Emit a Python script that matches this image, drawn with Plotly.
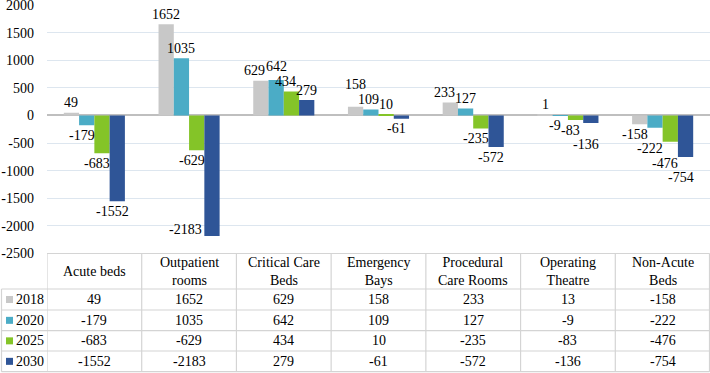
import plotly.graph_objects as go

categories = ["Acute beds", "Outpatient rooms", "Critical Care Beds", "Emergency Bays",
              "Procedural Care Rooms", "Operating Theatre", "Non-Acute Beds"]
header_labels = ["Acute beds", "Outpatient<br>rooms", "Critical Care<br>Beds", "Emergency<br>Bays",
                 "Procedural<br>Care Rooms", "Operating<br>Theatre", "Non-Acute<br>Beds"]
years = ["2018", "2020", "2025", "2030"]
v2018 = [49, 1652, 629, 158, 233, 13, -158]
v2020 = [-179, 1035, 642, 109, 127, -9, -222]
v2025 = [-683, -629, 434, 10, -235, -83, -476]
v2030 = [-1552, -2183, 279, -61, -572, -136, -754]
series = [v2018, v2020, v2025, v2030]
# data labels as printed on the chart (the 2018 Operating Theatre label reads "1")
labels2018 = ["49", "1652", "629", "158", "233", "1", "-158"]
bar_labels = [labels2018] + [[str(v) for v in s] for s in series[1:]]
colors = ["#c8c8c8", "#4bacc6", "#84c428", "#2f5597"]
yticks = [2000, 1500, 1000, 500, 0, -500, -1000, -1500, -2000, -2500]
YMIN, YMAX = -2500, 2000

W, H = 710, 373
ML, MT = 47, 5
PH = H - MT
FONT = "Liberation Serif, Times New Roman, serif"
FS = 14
BARGAP = 0.355

def py(pix):
    return 1 - (pix - MT) / PH

def px(pix):
    return (pix - ML) / (W - ML)

row_edges = [253.5, 289, 310, 330.7, 351, 371.7]
plot_top, plot_bot = MT, row_edges[0]

def ypix(v):
    return plot_top + (YMAX - v) / (YMAX - YMIN) * (plot_bot - plot_top)

cat_w = (W - ML) / len(categories)
bar_w = cat_w * (1 - BARGAP) / len(series)

def text_w(s):
    return sum(4.7 if ch == "-" else 7.0 for ch in s)

fig = go.Figure()
for name, vals, col in zip(years, series, colors):
    fig.add_trace(go.Bar(x=categories, y=vals, name=name, marker_color=col,
                         marker_line_width=0, hoverinfo="skip"))

# ---- data labels: outside the bar end, nudged to avoid collisions ----
annotations = []
placed = []
GAP = 10  # distance from bar end to label centre
for ci in range(len(categories)):
    pos = [(k, series[k][ci]) for k in range(len(series)) if series[k][ci] >= 0]
    neg = [(k, series[k][ci]) for k in range(len(series)) if series[k][ci] < 0]
    order = list(reversed(pos)) + neg
    for k, v in order:
        lab = bar_labels[k][ci]
        w = text_w(lab)
        off = (k - (len(series) - 1) / 2) * bar_w
        bx = ML + (ci + 0.5) * cat_w + off
        xs = 0 if v >= 0 else -5
        end = ypix(v)
        yc = end - GAP if v >= 0 else end + GAP
        if v < 0 and yc + FS / 2 > plot_bot - 4:
            xs = -(bar_w / 2 + w / 2 + 2)
            yc = end - 6
        for _ in range(30):
            hit = False
            cx = bx + xs
            for (ox, oy, ow) in placed:
                xo = (w + ow) / 2 - abs(cx - ox)
                if xo > 0.5 and abs(yc - oy) < FS:
                    hit = True
                    if xo <= 6:
                        direction = 1 if cx > ox else -1
                        xs += direction * (xo + 0.5)
                    else:
                        yc = oy - FS - 0.5 if v >= 0 else oy + FS + 0.5
                    break
            if not hit:
                break
        placed.append((bx + xs, yc, w))
        annotations.append(dict(
            x=categories[ci], y=v, xref="x", yref="y", text=lab, showarrow=False,
            xshift=xs + off, yshift=end - yc, yanchor="middle", xanchor="center",
            font=dict(family=FONT, size=FS, color="black")))

line_col = "#d4d4d4"
shapes = []
shapes.append(dict(type="line", xref="paper", yref="paper", x0=px(47), x1=px(709.5),
                   y0=py(row_edges[0]), y1=py(row_edges[0]), line=dict(color=line_col, width=1.2)))
for e in row_edges[1:]:
    shapes.append(dict(type="line", xref="paper", yref="paper", x0=px(1.5), x1=px(709.5),
                       y0=py(e), y1=py(e), line=dict(color=line_col, width=1.2)))
shapes.append(dict(type="line", xref="paper", yref="paper", x0=px(1.5), x1=px(1.5),
                   y0=py(row_edges[1]), y1=py(row_edges[-1]), line=dict(color=line_col, width=1.2)))
for i in range(len(categories) + 1):
    xv = i - 0.5
    shapes.append(dict(type="line", xref="x", yref="paper", x0=xv, x1=xv,
                       y0=py(row_edges[0]), y1=py(row_edges[-1]), line=dict(color=line_col, width=1.2)))
shapes.append(dict(type="line", xref="paper", yref="paper", x0=px(709.5), x1=px(709.5),
                   y0=py(row_edges[0]), y1=py(row_edges[-1]), line=dict(color=line_col, width=1.2)))

for i, h in enumerate(header_labels):
    annotations.append(dict(x=i, y=py((row_edges[0] + row_edges[1]) / 2), xref="x", yref="paper",
                            text=h, showarrow=False, yanchor="middle", xanchor="center",
                            font=dict(family=FONT, size=FS, color="black"), align="center"))
for r, (name, vals, col) in enumerate(zip(years, series, colors)):
    yc = py((row_edges[r + 1] + row_edges[r + 2]) / 2)
    shapes.append(dict(type="rect", xref="paper", yref="paper", x0=px(6), x1=px(13),
                       y0=yc - 3.5 / PH, y1=yc + 3.5 / PH, fillcolor=col, line=dict(width=0)))
    annotations.append(dict(x=px(14), y=yc, xref="paper", yref="paper", xanchor="left",
                            yanchor="middle", text=name, showarrow=False,
                            font=dict(family=FONT, size=FS, color="black")))
    for i, v in enumerate(vals):
        annotations.append(dict(x=i, y=yc, xref="x", yref="paper", text=str(v), showarrow=False,
                                xanchor="center", yanchor="middle",
                                font=dict(family=FONT, size=FS, color="black")))

fig.update_layout(
    width=W, height=H,
    margin=dict(l=ML, r=0, t=MT, b=0, autoexpand=False),
    paper_bgcolor="white", plot_bgcolor="white",
    barmode="group", bargap=BARGAP, bargroupgap=0,
    showlegend=False,
    xaxis=dict(showticklabels=False, showgrid=False, zeroline=False, showline=False,
               automargin=False, range=[-0.5, len(categories) - 0.5]),
    yaxis=dict(domain=[py(row_edges[0]), 1], range=[YMIN, YMAX],
               tickmode="array", tickvals=yticks, ticktext=[str(t) for t in yticks],
               automargin=False, ticklabeloverflow="allow",
               showgrid=True, gridcolor="#dde6ef", gridwidth=1,
               zeroline=True, zerolinecolor="#bfbfbf", zerolinewidth=1.5,
               ticks="", ticklabelstandoff=12,
               tickfont=dict(family=FONT, size=FS, color="black")),
    shapes=shapes, annotations=annotations,
)
fig.write_html("out.html", config={"displayModeBar": False},
               post_script="document.body.style.margin='0';document.body.style.overflow='hidden';")
